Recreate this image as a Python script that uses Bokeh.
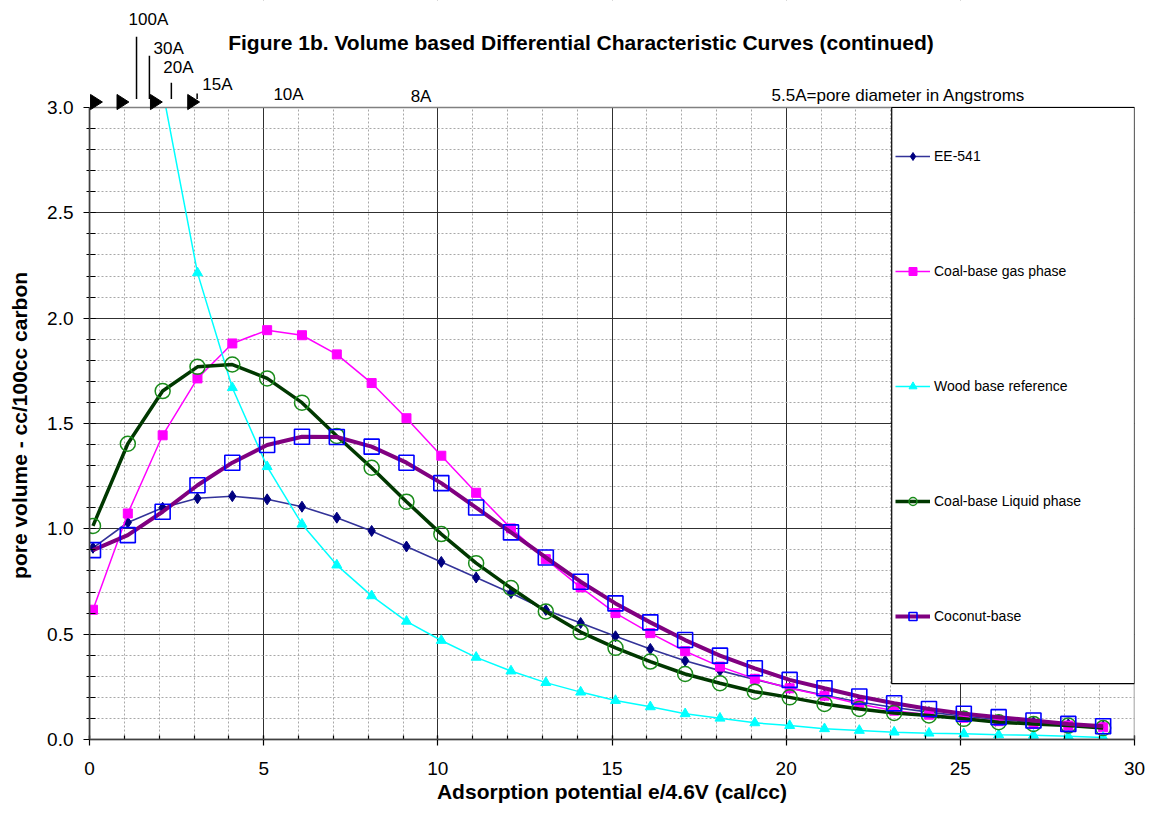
from bokeh.plotting import figure
from bokeh.models import (Range1d, SingleIntervalTicker, PrintfTickFormatter, Label,
                          Arrow, PolyAnnotation, BoxAnnotation, Legend, LegendItem)
from bokeh.embed import file_html
from bokeh.resources import INLINE

# ---------------- data ----------------
x_vals = [0.1, 1.1, 2.1, 3.1, 4.1, 5.1, 6.1, 7.1, 8.1, 9.1,
          10.1, 11.1, 12.1, 13.1, 14.1, 15.1, 16.1, 17.1, 18.1, 19.1,
          20.1, 21.1, 22.1, 23.1, 24.1, 25.1, 26.1, 27.1, 28.1, 29.1]

ee541 = [0.91, 1.03, 1.10, 1.145, 1.155, 1.14, 1.105, 1.053, 0.99, 0.916,
         0.843, 0.769, 0.695, 0.615, 0.553, 0.49, 0.43, 0.374, 0.327, 0.285,
         0.245, 0.21, 0.178, 0.152, 0.13, 0.11, 0.095, 0.082, 0.072, 0.062]

coal_gas = [0.616, 1.073, 1.444, 1.714, 1.88, 1.943, 1.919, 1.828, 1.692, 1.525,
            1.347, 1.171, 1.002, 0.856, 0.722, 0.60, 0.505, 0.419, 0.346, 0.288,
            0.243, 0.208, 0.169, 0.137, 0.118, 0.103, 0.087, 0.074, 0.066, 0.058]

wood_x = [2.1, 3.1, 4.1, 5.1, 6.1, 7.1, 8.1, 9.1,
          10.1, 11.1, 12.1, 13.1, 14.1, 15.1, 16.1, 17.1, 18.1, 19.1,
          20.1, 21.1, 22.1, 23.1, 24.1, 25.1, 26.1, 27.1, 28.1, 29.1]
wood = [3.08, 2.215, 1.67, 1.295, 1.022, 0.828, 0.682, 0.561,
        0.47, 0.39, 0.325, 0.27, 0.225, 0.185, 0.155, 0.122, 0.101, 0.079,
        0.066, 0.051, 0.043, 0.035, 0.03, 0.027, 0.022, 0.02, 0.015, 0.01]

coal_liquid = [1.014, 1.404, 1.654, 1.769, 1.78, 1.714, 1.599, 1.441, 1.29, 1.129,
               0.975, 0.837, 0.719, 0.608, 0.51, 0.435, 0.37, 0.311, 0.267, 0.227,
               0.20, 0.169, 0.145, 0.126, 0.114, 0.098, 0.082, 0.074, 0.066, 0.054]

coconut = [0.899, 0.970, 1.081, 1.207, 1.314, 1.398, 1.437, 1.436, 1.39, 1.314,
           1.217, 1.101, 0.983, 0.864, 0.749, 0.646, 0.556, 0.472, 0.398, 0.338,
           0.283, 0.243, 0.204, 0.172, 0.145, 0.122, 0.106, 0.09, 0.074, 0.063]

series_names = ["EE-541", "Coal-base gas phase", "Wood base reference",
                "Coal-base Liquid phase", "Coconut-base"]

title_text = "Figure 1b. Volume based Differential Characteristic Curves (continued)"
x_label = "Adsorption potential e/4.6V (cal/cc)"
y_label = "pore volume - cc/100cc carbon"

# pore-diameter annotations above the plot area
pore_labels = ["100A", "30A", "20A", "15A", "10A", "8A", "5.5A=pore diameter in Angstroms"]
pore_label_x = [1.12, 1.84, 2.12, 3.24, 5.28, 9.22, 19.58]
pore_label_y = [3.418, 3.280, 3.188, 3.109, 3.062, 3.053, 3.058]
pore_tick_x = [1.35, 1.72, 2.35, 3.09]
pore_tick_top = [3.336, 3.246, 3.118, 3.066]
pore_arrow_x = [0.2, 0.96, 1.92, 2.99]

FONT = "Liberation Sans"
Y_MAX = 3.0                      # top of the plotting area
Y_TOP = 3.0 + 107 / 210.667      # extra room above for title / annotations

p = figure(width=1151, height=811, output_backend="svg", toolbar_location=None,
           x_range=Range1d(0, 30), y_range=Range1d(0, Y_TOP),
           min_border_left=89, min_border_right=17, min_border_top=0, min_border_bottom=72)
p.background_fill_color = "white"
p.border_fill_color = "white"
p.outline_line_color = None

p.xaxis.ticker = SingleIntervalTicker(interval=5, num_minor_ticks=5)
p.yaxis.ticker = SingleIntervalTicker(interval=0.5, num_minor_ticks=5)
p.yaxis.formatter = PrintfTickFormatter(format="%.1f")
p.yaxis.bounds = (0, Y_MAX)
for ax in (p.xaxis, p.yaxis):
    ax.axis_line_color = "black"
    ax.axis_line_width = 1.5
    ax.major_tick_line_color = "black"
    ax.minor_tick_line_color = "black"
    ax.major_tick_line_width = 1.2
    ax.minor_tick_line_width = 1.2
    ax.major_label_text_font = FONT
    ax.major_label_text_font_size = "19px"
    ax.major_label_text_color = "black"
    ax.axis_label_text_font = FONT
    ax.axis_label_text_font_size = "21px"
    ax.axis_label_text_font_style = "bold"
    ax.axis_label_text_color = "black"
p.xaxis.major_tick_in = 4
p.xaxis.major_tick_out = 6
p.xaxis.minor_tick_in = 4
p.xaxis.minor_tick_out = 0
p.xaxis.major_label_standoff = 16
p.xaxis.axis_label = x_label
p.xaxis.axis_label_standoff = 2
p.yaxis.major_tick_in = 6
p.yaxis.major_tick_out = 6
p.yaxis.minor_tick_in = 6
p.yaxis.minor_tick_out = 3
p.yaxis.major_label_standoff = 10
# non-breaking padding centres the label on the 0-3 part of the axis
p.yaxis.axis_label = y_label + "\u00a0" * 19
p.yaxis.axis_label_standoff = 13

for g in (p.xgrid, p.ygrid):
    g.grid_line_color = "#303030"
    g.grid_line_width = 1
    g.minor_grid_line_color = "#a8a8a8"
    g.minor_grid_line_dash = "2 2"
    g.minor_grid_line_width = 1

# series
r_ee_l = p.line(x_vals, ee541, line_color="#333399", line_width=1.6)
r_ee_m = p.scatter(x_vals, ee541, marker="diamond", size=11,
                   fill_color="#000080", line_color="#000080")

r_gas_l = p.line(x_vals, coal_gas, line_color="#ff00ff", line_width=1.5)
r_gas_m = p.scatter(x_vals, coal_gas, marker="square", size=9,
                    fill_color="#ff00ff", line_color="#ff00ff")

r_wood_l = p.line(wood_x, wood, line_color="#00ffff", line_width=1.5)
r_wood_m = p.scatter(wood_x, wood, marker="triangle", size=10,
                     fill_color="#00ffff", line_color="#00ffff")

r_liq_l = p.line(x_vals, coal_liquid, line_color="#003800", line_width=3.5)
r_liq_m = p.scatter(x_vals, coal_liquid, marker="circle", size=15,
                    fill_alpha=0, line_color="#1a8c1a", line_width=1.5)

r_coco_l = p.line(x_vals, coconut, line_color="#800080", line_width=4)
r_coco_m = p.scatter(x_vals, coconut, marker="square", size=15,
                     fill_alpha=0, line_color="#0000ff", line_width=1.6)

# white band above the plotting area (hides grid lines there)
p.add_layout(BoxAnnotation(bottom=Y_MAX, fill_color="white", fill_alpha=1.0,
                           line_alpha=0))
# plotting-area border
p.add_layout(BoxAnnotation(left=0, right=30, bottom=0, top=Y_MAX, fill_alpha=0,
                           line_color="#808080", line_alpha=1.0, line_width=1.5))
# legend box (covers the grid)
p.add_layout(BoxAnnotation(left=23.03, right=30, bottom=0.265, top=Y_MAX,
                           fill_color="white", fill_alpha=1.0,
                           line_color="black", line_alpha=1.0, line_width=1.2))

legend = Legend(items=[
    LegendItem(label=series_names[0], renderers=[r_ee_l, r_ee_m]),
    LegendItem(label=series_names[1], renderers=[r_gas_l, r_gas_m]),
    LegendItem(label=series_names[2], renderers=[r_wood_l, r_wood_m]),
    LegendItem(label=series_names[3], renderers=[r_liq_l, r_liq_m]),
    LegendItem(label=series_names[4], renderers=[r_coco_l, r_coco_m]),
], location=(806, 113), orientation="vertical",
    padding=0, margin=0, spacing=95, glyph_width=35, glyph_height=20,
    label_height=20, label_standoff=4,
    label_text_font=FONT, label_text_font_size="14px", label_text_color="black",
    background_fill_alpha=0, border_line_alpha=0)
p.add_layout(legend, "center")

# title
p.add_layout(Label(x=14.11, y=3.3085, text=title_text,
                   text_align="center", text_baseline="middle", text_font=FONT,
                   text_font_size="21px", text_font_style="bold", text_color="black"))

# pore-diameter labels, tick lines and arrows
for t, lx, ly in zip(pore_labels, pore_label_x, pore_label_y):
    p.add_layout(Label(x=lx, y=ly, text=t, text_align="left", text_baseline="middle",
                       text_font=FONT, text_font_size="17px", text_color="black"))
for tx, ty in zip(pore_tick_x, pore_tick_top):
    p.add_layout(Arrow(x_start=tx, y_start=3.04, x_end=tx, y_end=ty, end=None,
                       line_color="black", line_width=1.5))
for ax_ in pore_arrow_x:
    p.add_layout(PolyAnnotation(xs=[ax_ - 0.17, ax_ - 0.17, ax_ + 0.17],
                                ys=[2.99, 3.062, 3.026],
                                fill_color="black", fill_alpha=1, line_color="black",
                                line_alpha=1, line_width=1))

open("out.html", "w").write(file_html(p, INLINE))
